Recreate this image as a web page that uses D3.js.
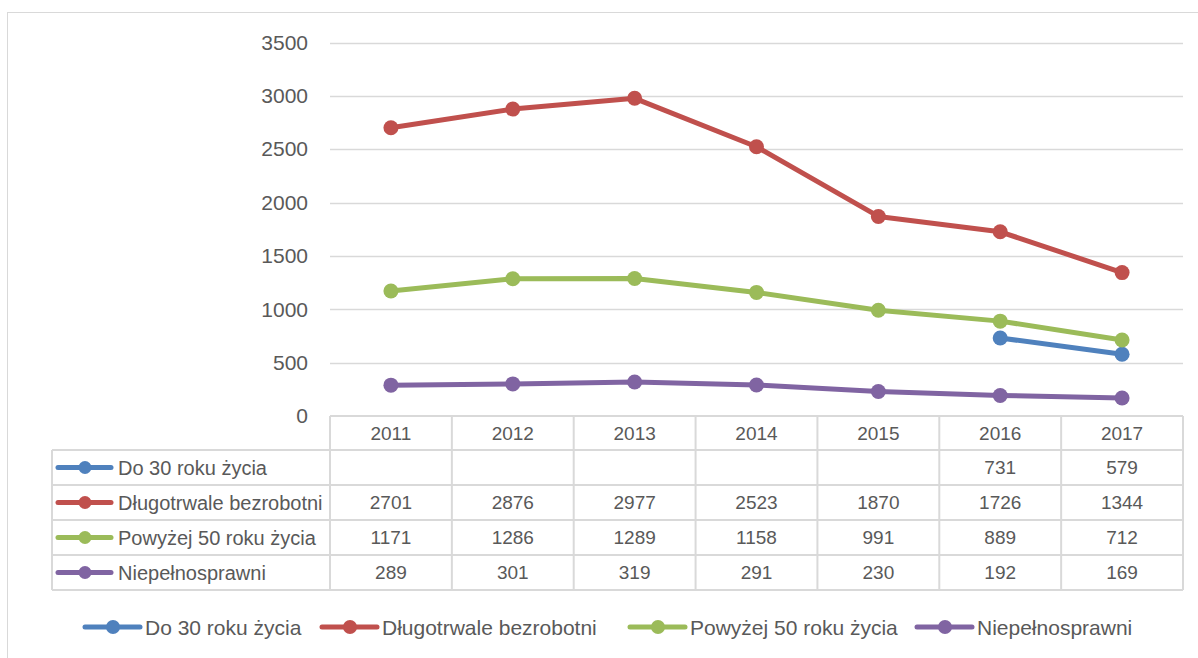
<!DOCTYPE html>
<html>
<head>
<meta charset="utf-8">
<script src="https://cdn.jsdelivr.net/npm/d3@7"></script>
<style>
    body { margin: 0; background: #fff; }
    text { font-family: "Liberation Sans", Arial, sans-serif; fill: #595959; }
</style>
</head>
<body>
<svg id="chart" width="1198" height="658"></svg>
<script>
const years = ["2011", "2012", "2013", "2014", "2015", "2016", "2017"];
const seriesNames = ["Do 30 roku życia", "Długotrwale bezrobotni", "Powyżej 50 roku życia", "Niepełnosprawni"];
const colors = ["#4f81bd", "#c0504d", "#9bbb59", "#8064a2"];

const do30 = [null, null, null, null, null, 731, 579];
const dlugotrwale = [2701, 2876, 2977, 2523, 1870, 1726, 1344];
const powyzej50 = [1171, 1286, 1289, 1158, 991, 889, 712];
const niepelnosprawni = [289, 301, 319, 291, 230, 192, 169];

const yTicks = [0, 500, 1000, 1500, 2000, 2500, 3000, 3500];

const series = [do30, dlugotrwale, powyzej50, niepelnosprawni].map(function (v, i) {
    return {name: seriesNames[i], color: colors[i], values: v};
});

const svg = d3.select("#chart");
const gridColor = "#d9d9d9";

// outer chart frame
svg.append("rect")
    .attr("x", 7.5).attr("y", 12.5)
    .attr("width", 1200).attr("height", 660)
    .attr("fill", "none").attr("stroke", gridColor);

const x = d3.scaleBand().domain(years).range([330, 1183]);
const y = d3.scaleLinear().domain([0, 3500]).range([416, 42.5]);

// gridlines
svg.append("g")
    .selectAll("line")
    .data(yTicks.slice(1))
    .enter()
    .append("line")
    .attr("x1", 330).attr("x2", 1183)
    .attr("y1", function (d) { return Math.round(y(d)) + 0.5; })
    .attr("y2", function (d) { return Math.round(y(d)) + 0.5; })
    .attr("stroke", gridColor).attr("stroke-width", 1.5);

// y axis labels
const yAxis = d3.axisLeft(y).tickValues(yTicks).tickFormat(d3.format("d")).tickSize(0).tickPadding(22);
const ya = svg.append("g").attr("transform", "translate(330,0)").call(yAxis);
ya.select(".domain").remove();
ya.selectAll("text")
    .style("font-family", "Liberation Sans, Arial, sans-serif")
    .style("font-size", "21px")
    .attr("fill", "#595959");

// lines
const line = d3.line()
    .defined(function (d) { return d != null; })
    .x(function (d, i) { return x(years[i]) + x.bandwidth() / 2; })
    .y(function (d) { return y(d); });

const sg = svg.append("g")
    .selectAll("g")
    .data(series)
    .enter()
    .append("g");

sg.append("path")
    .attr("d", function (d) { return line(d.values); })
    .attr("fill", "none")
    .attr("stroke", function (d) { return d.color; })
    .attr("stroke-width", 5)
    .attr("stroke-linejoin", "round");

sg.selectAll("circle")
    .data(function (d) {
        return d.values.map(function (v, i) { return {v: v, i: i, color: d.color}; })
            .filter(function (p) { return p.v != null; });
    })
    .enter()
    .append("circle")
    .attr("cx", function (d) { return x(years[d.i]) + x.bandwidth() / 2; })
    .attr("cy", function (d) { return y(d.v); })
    .attr("r", 7.5)
    .attr("fill", function (d) { return d.color; });

// data table
const rowTop = 416, headerH = 34, rowH = 35;
const tableLeft = 52, tableRight = 1183;
const table = svg.append("g");
const tableBottom = rowTop + headerH + rowH * series.length;

// horizontal lines
const hLines = [{y: rowTop, x1: 330}];
for (let i = 0; i <= series.length; i++) {
    hLines.push({y: rowTop + headerH + rowH * i, x1: tableLeft});
}
table.selectAll("line.h")
    .data(hLines)
    .enter()
    .append("line")
    .attr("class", "h")
    .attr("x1", function (d) { return d.x1; })
    .attr("x2", tableRight)
    .attr("y1", function (d) { return d.y; })
    .attr("y2", function (d) { return d.y; })
    .attr("stroke", gridColor).attr("stroke-width", 2);

// vertical lines
const vLines = [{x: tableLeft, y1: rowTop + headerH}];
years.forEach(function (yr) { vLines.push({x: x(yr), y1: rowTop}); });
vLines.push({x: tableRight, y1: rowTop});
table.selectAll("line.v")
    .data(vLines)
    .enter()
    .append("line")
    .attr("class", "v")
    .attr("x1", function (d) { return d.x; })
    .attr("x2", function (d) { return d.x; })
    .attr("y1", function (d) { return d.y1; })
    .attr("y2", tableBottom)
    .attr("stroke", gridColor).attr("stroke-width", 2);

// header years
table.selectAll("text.year")
    .data(years)
    .enter()
    .append("text")
    .attr("class", "year")
    .attr("x", function (d) { return x(d) + x.bandwidth() / 2; })
    .attr("y", rowTop + headerH / 2)
    .attr("dy", "0.36em")
    .attr("text-anchor", "middle")
    .style("font-size", "19px")
    .text(function (d) { return d; });

const rows = table.selectAll("g.row")
    .data(series)
    .enter()
    .append("g")
    .attr("class", "row")
    .attr("transform", function (d, i) {
        return "translate(0," + (rowTop + headerH + rowH * i + rowH / 2) + ")";
    });

rows.append("line")
    .attr("x1", 58).attr("x2", 111)
    .attr("stroke", function (d) { return d.color; })
    .attr("stroke-width", 5)
    .attr("stroke-linecap", "round");

rows.append("circle")
    .attr("cx", 85).attr("r", 6.5)
    .attr("fill", function (d) { return d.color; });

rows.append("text")
    .attr("x", 118)
    .attr("dy", "0.36em")
    .style("font-size", "20px")
    .text(function (d) { return d.name; });

rows.selectAll("text.val")
    .data(function (d) {
        return d.values.map(function (v, i) { return {v: v, i: i}; })
            .filter(function (p) { return p.v != null; });
    })
    .enter()
    .append("text")
    .attr("class", "val")
    .attr("x", function (d) { return x(years[d.i]) + x.bandwidth() / 2; })
    .attr("dy", "0.36em")
    .attr("text-anchor", "middle")
    .style("font-size", "19px")
    .text(function (d) { return d.v; });

// legend
const legendX = [85, 322, 630, 917];
const legend = svg.append("g")
    .selectAll("g")
    .data(series)
    .enter()
    .append("g")
    .attr("transform", function (d, i) { return "translate(" + legendX[i] + ",627)"; });

legend.append("line")
    .attr("x1", 0).attr("x2", 55)
    .attr("stroke", function (d) { return d.color; })
    .attr("stroke-width", 5)
    .attr("stroke-linecap", "round");

legend.append("circle")
    .attr("cx", 28).attr("r", 7)
    .attr("fill", function (d) { return d.color; });

legend.append("text")
    .attr("x", 60)
    .attr("dy", "0.36em")
    .style("font-size", "21px")
    .text(function (d) { return d.name; });
</script>
</body>
</html>
